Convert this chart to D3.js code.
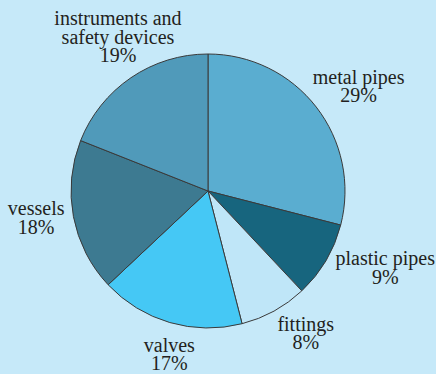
<!DOCTYPE html>
<html>
<head>
<meta charset="utf-8">
<script src="https://cdn.jsdelivr.net/npm/d3@7"></script>
<style>
  body { margin: 0; background: #c6e9f9; }
  svg { display: block; }
  text.lbl { font-family: "Liberation Serif", "DejaVu Serif", serif; }
</style>
</head>
<body>
<div id="pie"></div>
<script>
// data
var categories = ["metal pipes", "plastic pipes", "fittings", "valves", "vessels", "instruments and safety devices"];
var values = [29, 9, 8, 17, 18, 19];
var labelLines = [["metal pipes"], ["plastic pipes"], ["fittings"], ["valves"], ["vessels"], ["instruments and", "safety devices"]];
var colors = ["#5aadd0", "#17657e", "#bfe6f8", "#45c8f5", "#3d7a91", "#509aba"];
// small label nudges so text sits like the original
var nudge = [[10, 11], [24, -7], [12, -7], [11, -1], [3, 0], [10, 0]];

var width = 436, height = 374;
var cx = 208, cy = 191, radius = 137, labelRadius = 178;
var lineH = 18.5;

var svg = d3.select("#pie")
  .append("svg")
    .attr("width", width)
    .attr("height", height);

var g = svg.append("g")
    .attr("transform", "translate(" + cx + "," + cy + ")");

var pie = d3.pie().sort(null).value(function(d) { return d; });
var arcs = pie(values);

var arc = d3.arc().innerRadius(0).outerRadius(radius);
var labelArc = d3.arc().innerRadius(labelRadius).outerRadius(labelRadius);

g.selectAll("path")
  .data(arcs)
  .enter()
  .append("path")
    .attr("d", arc)
    .attr("fill", function(d, i) { return colors[i]; })
    .attr("stroke", "#3a3a3a")
    .attr("stroke-width", 1);

g.selectAll("text.lbl")
  .data(arcs)
  .enter()
  .append("text")
    .attr("class", "lbl")
    .attr("text-anchor", "middle")
    .attr("font-size", 20)
    .attr("fill", "#231f20")
    .each(function(d, i) {
      var c = labelArc.centroid(d);
      var x = c[0] + nudge[i][0], y = c[1] + nudge[i][1];
      var lines = labelLines[i].concat([values[i] + "%"]);
      var y0 = y - (lines.length - 1) * lineH / 2;
      var t = d3.select(this);
      lines.forEach(function(s, k) {
        t.append("tspan")
          .attr("x", x)
          .attr("y", y0 + k * lineH)
          .text(s);
      });
    });
</script>
</body>
</html>
